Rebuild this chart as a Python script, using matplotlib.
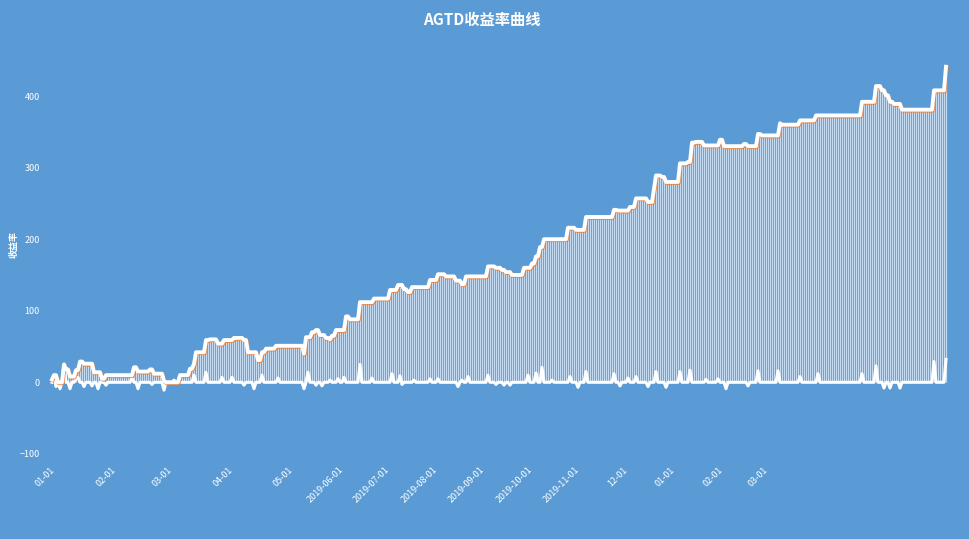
import numpy as np
import matplotlib
matplotlib.use("Agg")
import matplotlib.pyplot as plt
import matplotlib.patheffects as pe

plt.rcParams['font.family'] = ['Noto Sans CJK SC', 'DejaVu Sans']

# 累计收益率: 每段起点(交易日序号)和该段水平
cum_start = [0, 1, 3, 6, 7, 9, 12, 14, 16, 21, 25, 27, 41, 43, 49, 51, 56, 57, 64, 69,
             71, 72, 77, 79, 83, 86, 91, 96, 98, 103, 105, 107, 112, 126, 127, 130, 132, 134, 137, 139,
             140, 142, 147, 149, 154, 161, 169, 173, 176, 178, 180, 189, 193, 197, 202, 205, 207, 218, 222, 225,
             227, 230, 236, 240, 242, 244, 246, 258, 262, 267, 281, 283, 289, 292, 298, 301, 302, 305, 307, 314,
             318, 320, 322, 326, 334, 336, 346, 348, 353, 355, 364, 365, 374, 382, 405, 412, 415, 417, 419, 421,
             425, 441, 447]
cum_level = [4, 10, 0, 25, 18, 8, 17, 29, 26, 14, 5, 10, 21, 15, 18, 12, 2, 0, 10, 19,
             26, 42, 59, 60, 54, 59, 62, 59, 42, 31, 42, 47, 51, 40, 63, 70, 73, 66, 62, 60,
             65, 73, 92, 88, 112, 117, 129, 136, 130, 126, 133, 143, 151, 148, 142, 137, 148, 162, 160, 157,
             154, 150, 160, 166, 176, 189, 200, 216, 213, 231, 241, 240, 245, 257, 252, 270, 289, 287, 280, 306,
             308, 335, 336, 331, 339, 330, 333, 330, 347, 345, 362, 360, 366, 373, 392, 414, 408, 401, 392, 389,
             381, 408, 441]
n_days = 448

# 日收益率: 非零的日子
daily_idx = [1, 2, 4, 6, 9, 12, 13, 16, 20, 23, 27, 40, 43, 50, 56, 61, 71, 77, 85, 90,
             96, 101, 105, 113, 126, 128, 132, 135, 139, 143, 146, 154, 160, 170, 174, 175, 181, 189, 193, 203,
             205, 208, 218, 222, 226, 229, 238, 242, 245, 250, 259, 263, 267, 281, 284, 288, 292, 298, 302, 307,
             314, 319, 327, 333, 337, 348, 353, 363, 374, 383, 405, 412, 416, 419, 424, 441, 447]
daily_val = [8, -6, -9, 24, -9, 5, 7, -6, -5, -9, -4, 6, -9, -3, -11, 3, 10, 14, 7, 7,
             -4, -9, 10, 6, -9, 14, -4, -5, 3, 5, 7, 25, 6, 12, 9, -3, 3, 5, 5, -6,
             3, 8, 10, -3, -4, -4, 10, 13, 21, 3, 8, -7, 15, 12, -5, 6, 8, -6, 15, -7,
             15, 17, 4, 5, -9, -5, 16, 16, 8, 12, 12, 23, -8, -8, -8, 29, 32]

tick_pos = [-1, 29.5, 57.5, 88, 118, 143.5, 166.5, 190.5, 214, 238, 261.5, 285.5, 309, 333, 355.5]
tick_lab = ['01-01', '02-01', '03-01', '04-01', '05-01', '2019-06-01', '2019-07-01', '2019-08-01',
            '2019-09-01', '2019-10-01', '2019-11-01', '12-01', '01-01', '02-01', '03-01']

lengths = np.diff(cum_start + [n_days])
cum = np.repeat(cum_level, lengths)
daily = np.zeros(n_days)
daily[daily_idx] = daily_val
x = np.arange(n_days)

bg = '#5B9BD5'
fig = plt.figure(figsize=(9.7, 5.39), dpi=100, facecolor=bg)
ax = fig.add_axes([44 / 970, (539 - 461) / 539, 912 / 970, (461 - 46) / 539])
ax.set_facecolor(bg)

ax.vlines(x, 0, cum, colors='#EAF2FB', linewidth=0.85, alpha=0.75)
ax.plot(x, daily, color='white', lw=2.2, solid_joinstyle='round')
ax.plot(x, cum, color='white', lw=2.8, solid_joinstyle='round',
        path_effects=[pe.SimpleLineShadow(offset=(0.5, -0.7), shadow_color='#ED7D31', alpha=0.85),
                      pe.Normal()])

ax.set_xlim(-4, 452)
ax.set_ylim(-110, 470)
ax.set_yticks([-100, 0, 100, 200, 300, 400])
ax.set_xticks(tick_pos)
ax.set_xticklabels(tick_lab, rotation=45, ha='right', va='top', rotation_mode='anchor')
ax.tick_params(length=0, colors='white', labelsize=6.5)
ax.tick_params(axis='x', pad=3)
ax.tick_params(axis='y', pad=3)
for s in ax.spines.values():
    s.set_visible(False)

fig.text(14 / 970, 1 - 244 / 539, '收益率', rotation=90, color='white', fontsize=6.5,
         fontweight='bold', ha='center', va='center')
fig.text(482 / 970, 1 - 20 / 539, 'AGTD收益率曲线', color='white', fontsize=11,
         fontweight='bold', ha='center', va='center')

fig.savefig('out.png', dpi=100, facecolor=bg)
